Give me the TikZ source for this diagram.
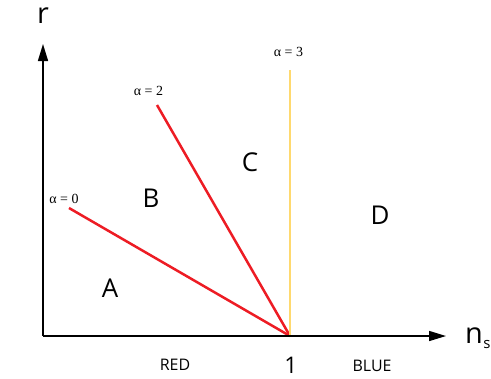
\documentclass[tikz,border=0pt]{standalone}
\usepackage{fontspec}
\setmainfont{Open Sans}
\newfontfamily\alphafont{Liberation Serif}
\usetikzlibrary{arrows.meta}

\begin{document}
\begin{tikzpicture}[x=1bp, y=-1bp, >={Triangle[length=17bp, width=10bp]}, inner sep=0pt,
    regione/.style={font=\fontsize{26}{28}\selectfont},
    asse/.style={font=\fontsize{29}{30}\selectfont},
    zona/.style={font=\fontsize{16}{18}\selectfont},
    alfa/.style={font=\alphafont\fontsize{14}{16}\selectfont}]

    % Colori delle rette
    \definecolor{rossolinea}{RGB}{237,28,36}
    \definecolor{giallolinea}{RGB}{255,217,110}

    \useasboundingbox (0,0) rectangle (491,378);

    % Punti principali
    \coordinate (O) at (43,336);
    \coordinate (uno) at (290,336);
    \coordinate (xfine) at (446,336);
    \coordinate (yfine) at (43,44);
    \coordinate (alfa0) at (69,208);
    \coordinate (alfa2) at (157,105);
    \coordinate (alfa3) at (290,70);

    % Rette alpha
    \draw[rossolinea, line width=2.5bp] (alfa0) -- (uno);
    \draw[rossolinea, line width=2.5bp] (alfa2) -- (uno);
    \draw[giallolinea, line width=2bp] (alfa3) -- (uno);

    % Assi con frecce
    \draw[->, line width=1.5bp] (O) -- (xfine);
    \draw[->, line width=1.5bp] (O) -- (yfine);

    % Etichette degli assi
    \node[asse] (lr) at (43,16) {r};
    \node[asse, anchor=base west] (lns) at (465,343) {n\kern0.5bp\raisebox{-5bp}{\fontsize{15}{16}\selectfont s}};
    \node[regione, font=\fontsize{23}{24}\selectfont] (luno) at (291,365.5) {1};
    \node[zona] (lred) at (175,365) {RED};
    \node[zona] (lblue) at (372,365.5) {BLUE};

    % Etichette delle rette
    \node[alfa] (la0) at (64,198.5) {α = 0};
    \node[alfa] (la2) at (148.5,90.5) {α = 2};
    \node[alfa] (la3) at (288.5,51.5) {α = 3};

    % Regioni
    \node[regione] (rA) at (110,288) {A};
    \node[regione] (rB) at (151,198) {B};
    \node[regione] (rC) at (250,162.5) {C};
    \node[regione] (rD) at (380,215.5) {D};

\end{tikzpicture}
\end{document}
